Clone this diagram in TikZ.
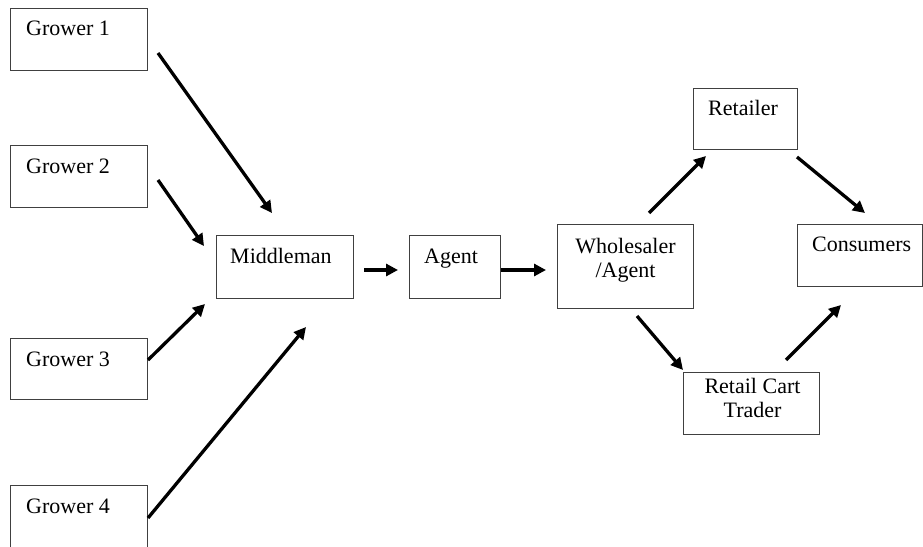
\documentclass[tikz,border=0pt]{standalone}
\usepackage{fontspec}
\setmainfont{Liberation Serif}
\usetikzlibrary{arrows.meta,calc}
\begin{document}
\begin{tikzpicture}[x=1pt,y=-1pt,
  box/.style={draw=black!75, line width=1pt, inner sep=0pt, anchor=north west},
  txt/.style={font=\fontsize{22}{24}\selectfont, inner sep=0pt},
  arr/.style={line width=3.3pt, -{Triangle[length=12pt,width=12pt]}}]
\useasboundingbox (0,0) rectangle (923,546);
\fill[white] (0,0) rectangle (923,546);
% boxes
\node[box, minimum width=137pt, minimum height=62pt] (g1) at (10,8) {};
\node[box, minimum width=137pt, minimum height=62pt] (g2) at (10,145) {};
\node[box, minimum width=137pt, minimum height=61pt] (g3) at (10,338) {};
\node[box, minimum width=137pt, minimum height=66pt] (g4) at (10,485) {};
\node[box, minimum width=137pt, minimum height=63pt] (mid) at (216,235) {};
\node[box, minimum width=91pt, minimum height=63pt] (ag) at (409,235) {};
\node[box, minimum width=136pt, minimum height=84pt] (wh) at (557,224) {};
\node[box, minimum width=104pt, minimum height=61pt] (ret) at (693,88) {};
\node[box, minimum width=125pt, minimum height=62pt] (con) at (797,224) {};
\node[box, minimum width=136pt, minimum height=62pt] (rct) at (683,372) {};
% texts
\node[txt, anchor=base west] at ($(g1.north west)+(16,27)$) {Grower 1};
\node[txt, anchor=base west] at ($(g2.north west)+(16,28)$) {Grower 2};
\node[txt, anchor=base west] at ($(g3.north west)+(16,28)$) {Grower 3};
\node[txt, anchor=base west] at ($(g4.north west)+(16,28)$) {Grower 4};
\node[txt, anchor=base west] at ($(mid.north west)+(14,28)$) {Middleman};
\node[txt, anchor=base west] at ($(ag.north west)+(15,28)$) {Agent};
\node[txt, anchor=base west] at ($(ret.north west)+(15,27)$) {Retailer};
\node[txt, anchor=base west] at ($(con.north west)+(15,27)$) {Consumers};
\node[txt, anchor=north, align=center] at ($(wh.north)+(0,14)$) {Wholesaler\\/Agent};
\node[txt, anchor=north, align=center] at ($(rct.north)+(1,6)$) {Retail Cart\\Trader};
% arrow ends
\coordinate (a1s) at (158,53);  \coordinate (a1e) at (272,213);
\coordinate (a2s) at (158,180); \coordinate (a2e) at (204,246);
\coordinate (a3s) at (148,360); \coordinate (a3e) at (205,304);
\coordinate (a4s) at (148,518); \coordinate (a4e) at (306,327);
\coordinate (a5s) at (364,270); \coordinate (a5e) at (398,270);
\coordinate (a6e) at (546,270);
\coordinate (a7s) at (649,213); \coordinate (a7e) at (706,156);
\coordinate (a8s) at (797,157); \coordinate (a8e) at (865,213);
\coordinate (a9s) at (637,316); \coordinate (a9e) at (683,370);
\coordinate (a10s) at (786,360); \coordinate (a10e) at (841,305);
% connectors
\draw[arr] (a1s) -- (a1e);
\draw[arr] (a2s) -- (a2e);
\draw[arr] (a3s) -- (a3e);
\draw[arr] (a4s) -- (a4e);
\draw[arr] (a5s) -- (a5e);
\draw[arr] (ag.east |- a6e) -- (a6e);
\draw[arr] (a7s) -- (a7e);
\draw[arr] (a8s) -- (a8e);
\draw[arr] (a9s) -- (a9e);
\draw[arr] (a10s) -- (a10e);
\end{tikzpicture}
\end{document}
